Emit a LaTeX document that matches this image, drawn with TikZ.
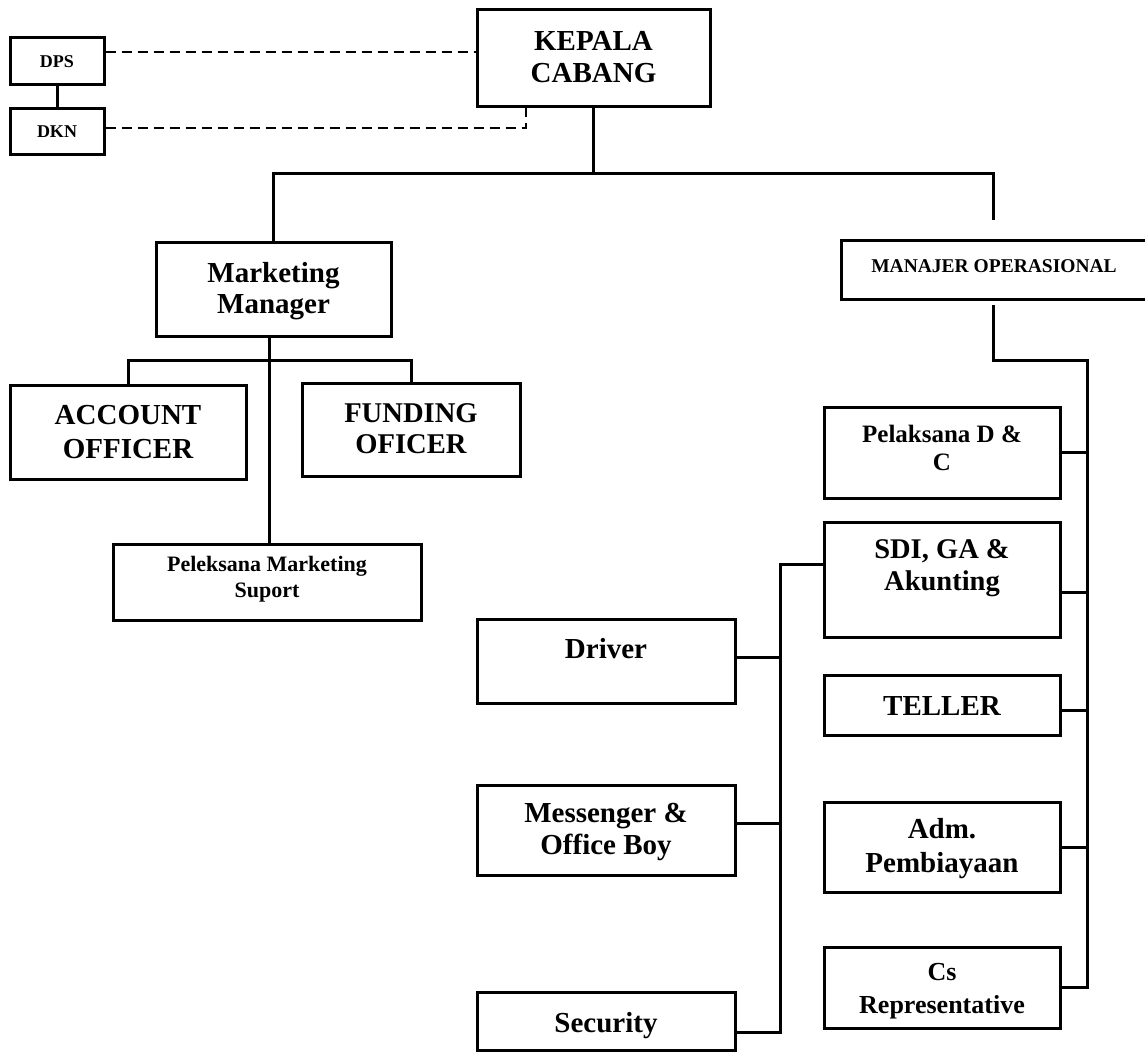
\documentclass[tikz,border=0pt]{standalone}
\usepackage{fontspec}
\setmainfont{Liberation Serif}
\newcommand{\fsz}[2]{\bfseries\fontsize{#1}{#2}\selectfont}
\tikzset{
  box/.style={draw, line width=3pt, rectangle, inner sep=0pt, align=center},
  tb/.style={text height=0pt, text depth=#1},
  th/.style={text height=#1, text depth=0pt},
  conn/.style={line width=3pt},
  dline/.style={line width=2pt, dash pattern=on 10pt off 6pt},
}
\begin{document}
\begin{tikzpicture}[x=1pt,y=-1pt]
\fill[white] (0,0) rectangle (1145,1052);
\useasboundingbox (0,0) rectangle (1145,1052);

% boxes
\node[box, minimum width=94pt, minimum height=47pt, font=\fsz{18}{20}, th=13pt] (dps) at (57,60.5) {DPS};
\node[box, minimum width=94pt, minimum height=46pt, font=\fsz{18}{20}, th=12pt] (dkn) at (57,131) {DKN};
\node[box, minimum width=233pt, minimum height=97pt, font=\fsz{29}{32}, th=49pt] (kc) at (593.5,57.5) {KEPALA\\CABANG};
\node[box, minimum width=235pt, minimum height=94pt, font=\fsz{29}{31}, th=48pt] (mm) at (273.5,289) {Marketing\\Manager};
\node[box, minimum width=236pt, minimum height=94pt, font=\fsz{29}{34}, th=52pt] (ao) at (128,432) {ACCOUNT\\OFFICER};
\node[box, minimum width=218pt, minimum height=93pt, font=\fsz{28.6}{31}, th=47pt] (fo) at (411,429.5) {FUNDING\\OFICER};
\node[box, minimum width=308pt, minimum height=76pt, font=\fsz{22}{26}, th=30pt] (pms) at (267,582) {Peleksana Marketing\\Suport};
\node[box, minimum width=306pt, minimum height=59pt, font=\fsz{19.5}{22}, th=5pt] (mo) at (994,269.5) {MANAJER OPERASIONAL};
\node[box, minimum width=236pt, minimum height=91pt, font=\fsz{25}{28}, th=35pt] (pdc) at (942,452.5) {Pelaksana D \&\\C};
\node[box, minimum width=236pt, minimum height=115pt, font=\fsz{28.5}{32}, th=21pt] (sdi) at (942,579.5) {SDI, GA \&\\Akunting};
\node[box, minimum width=236pt, minimum height=60pt, font=\fsz{29}{32}, th=20pt] (tel) at (942,705) {TELLER};
\node[box, minimum width=236pt, minimum height=90pt, font=\fsz{29}{34}, th=50pt] (adm) at (942,847) {Adm.\\Pembiayaan};
\node[box, minimum width=236pt, minimum height=81pt, font=\fsz{26}{33}, th=51pt] (cs) at (942,987.5) {Cs\\Representative};
\node[box, minimum width=258pt, minimum height=84pt, font=\fsz{29}{32}, tb=6pt] (drv) at (606,661) {Driver};
\node[box, minimum width=258pt, minimum height=90pt, font=\fsz{29}{32}, th=48pt] (msg) at (606,830) {Messenger \&\\Office Boy};
\node[box, minimum width=258pt, minimum height=58pt, font=\fsz{29}{32}, th=22pt] (sec) at (606,1021) {Security};

% DPS / DKN
\draw[conn] (dps.south) -- (dkn.north);
\coordinate (dpsE) at ([yshift=8.5pt]dps.east);
\draw[dline] (dpsE) -- (dpsE -| kc.west);
\coordinate (dknE) at ([yshift=3pt]dkn.east);
\coordinate (kcS) at ([xshift=-67.5pt]kc.south);
\draw[dline] (dknE) -| (kcS);

% top bus
\coordinate (busR) at (993,173);
\coordinate (moTop) at (993,220);
\draw[conn] (kc.south) -- (kc.south |- busR);
\draw[conn] (mm.north) |- (busR) -- (moTop);

% operational trunk
\coordinate (moLow) at (993,305);
\coordinate (trTop) at (1087,360);
\draw[conn] (moLow) |- (trTop) -- (trTop |- cs.east) -- (cs.east);
\draw[conn] (pdc.east) -- (pdc.east -| trTop);
\coordinate (sdiE) at ([yshift=-12.5pt]sdi.east);
\draw[conn] (sdiE) -- (sdiE -| trTop);
\coordinate (telE) at ([yshift=-5pt]tel.east);
\draw[conn] (telE) -- (telE -| trTop);
\draw[conn] (adm.east) -- (adm.east -| trTop);

% support trunk
\coordinate (sdiW) at ([yshift=15.5pt]sdi.west);
\coordinate (ltBot) at (780,1032);
\draw[conn] (sdiW) -| (ltBot) -- (ltBot -| sec.east);
\coordinate (drvE) at ([yshift=4pt]drv.east);
\draw[conn] (drvE) -- (drvE -| ltBot);
\coordinate (msgE) at ([yshift=7pt]msg.east);
\draw[conn] (msgE) -- (msgE -| ltBot);

% marketing
\coordinate (mx) at (269,360);
\draw[conn] (mx |- mm.south) -- (mx |- pms.north);
\draw[conn] (ao.north) |- (mx) -| (fo.north);
\end{tikzpicture}
\end{document}
